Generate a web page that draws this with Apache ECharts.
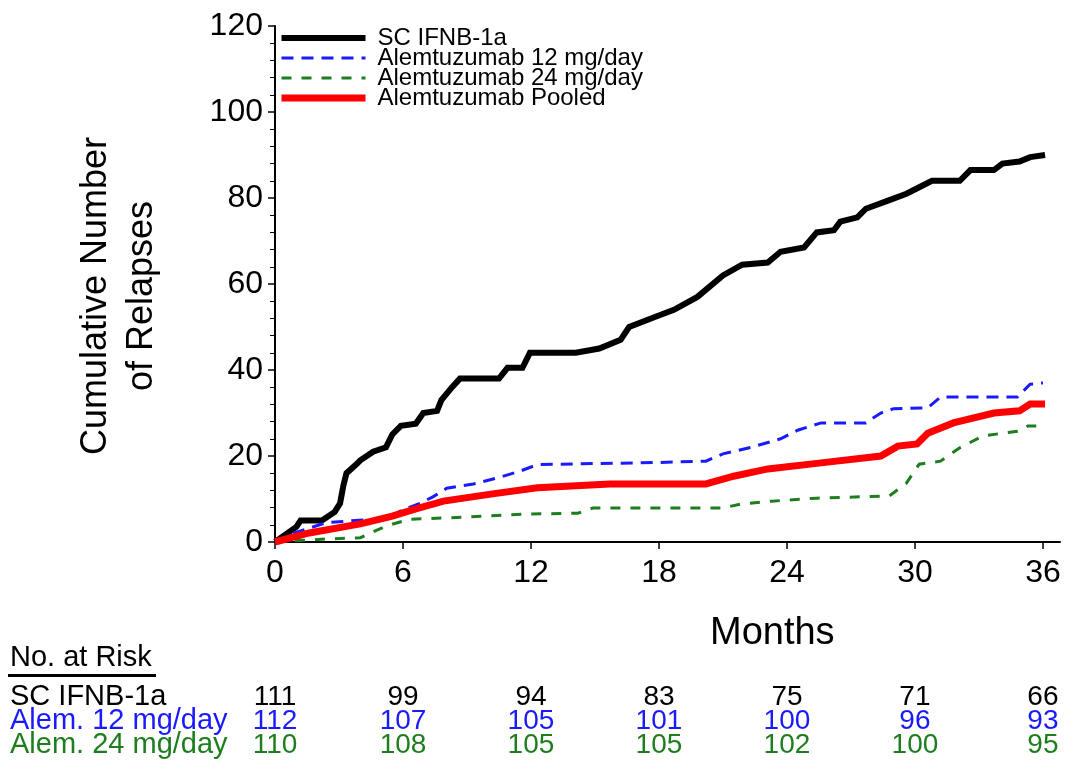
<!DOCTYPE html>
<html><head><meta charset="utf-8">
<script src="https://cdn.jsdelivr.net/npm/echarts@6/dist/echarts.min.js"></script>
<style>html,body{margin:0;padding:0;background:#fff}#c{width:1072px;height:766px}</style>
</head><body><div id="c"></div>
<script>
var seriesNames = ['SC IFNB-1a', 'Alemtuzumab 12 mg/day', 'Alemtuzumab 24 mg/day', 'Alemtuzumab Pooled'];
var scMonths = [0, 1.0, 1.2, 2.2, 2.8, 3.05, 3.2, 3.35, 3.8, 4.0, 4.6, 5.2, 5.5, 5.9, 6.6, 6.95, 7.6, 7.8, 8.3, 8.67, 10.5, 10.9, 11.6, 11.95, 14.1, 15.2, 16.2, 16.6, 17.9, 18.7, 19.8, 21.0, 21.9, 23.1, 23.7, 24.8, 25.4, 26.2, 26.5, 27.3, 27.7, 28.8, 29.6, 30.2, 30.8, 32.1, 32.6, 33.7, 34.1, 34.9, 35.4, 36.1];
var scValues = [0, 3.5, 5, 5, 7, 9, 13, 16, 18, 19, 21, 22, 25, 27, 27.5, 30, 30.5, 33, 36, 38, 38, 40.5, 40.5, 44, 44, 45, 47, 50, 52.5, 54, 57, 62, 64.5, 65, 67.5, 68.5, 72, 72.5, 74.5, 75.5, 77.5, 79.5, 81, 82.5, 84, 84, 86.5, 86.5, 88, 88.5, 89.5, 90];
var a12Months = [0, 0.85, 2.4, 5.2, 6.0, 6.8, 7.4, 8.05, 9.3, 10.5, 11.5, 12.3, 18.0, 20.2, 21.0, 22.3, 23.7, 24.5, 25.6, 27.7, 28.4, 29.0, 30.6, 31.2, 34.8, 35.4, 36.0];
var a12Values = [0, 2, 4.5, 5.5, 7.5, 9, 10.5, 12.5, 13.5, 15, 16.5, 18, 18.5, 18.8, 20.5, 22, 24, 26, 27.7, 27.7, 30, 31, 31.2, 33.7, 33.7, 36.7, 37];
var a24Months = [0, 2.4, 4.0, 5.2, 6.3, 8.05, 11.8, 14.2, 14.9, 21.0, 21.8, 23.3, 25.4, 28.8, 29.6, 30.2, 31.2, 32.1, 33.2, 34.9, 35.3, 36.0];
var a24Values = [0, 0.7, 1, 3.7, 5.3, 5.6, 6.5, 6.7, 7.9, 7.9, 8.8, 9.5, 10.2, 10.7, 13.7, 18.1, 18.8, 21.9, 24.7, 25.8, 27, 27];
var poolMonths = [0, 1.6, 4.0, 5.5, 6.6, 7.9, 10.2, 12.3, 15.7, 20.2, 21.5, 23.1, 25.6, 28.4, 29.2, 30.1, 30.6, 31.8, 33.7, 34.9, 35.4, 36.1];
var poolValues = [0, 2.1, 4.2, 6, 7.7, 9.5, 11.2, 12.6, 13.5, 13.5, 15.3, 17, 18.4, 20, 22.3, 22.8, 25.3, 27.7, 30, 30.5, 32.1, 32.1];
var xTicks = [0, 6, 12, 18, 24, 30, 36];
var riskRows = ['SC IFNB-1a', 'Alem. 12 mg/day', 'Alem. 24 mg/day'];
var riskSC = [111, 99, 94, 83, 75, 71, 66];
var riskA12 = [112, 107, 105, 101, 100, 96, 93];
var riskA24 = [110, 108, 105, 105, 102, 100, 95];

var FONT = '"Liberation Sans", Arial, sans-serif';
var lineColors = ['#000000', '#1a1aff', '#1e7d1e', '#ff0000'];
var lineWidths = [6, 3, 3, 7];
var lineTypes = ['solid', [12, 8], [10, 10], 'solid'];
var rowColors = ['#000000', '#1a1aff', '#1e7d1e'];
function pairs(xs, ys) { return xs.map(function (x, i) { return [x, ys[i]]; }); }
function riskData(vals, row) { return xTicks.map(function (m, i) { return [m, row, vals[i]]; }); }
function lineSeries(k, xs, ys) {
  return { name: seriesNames[k], type: 'line', xAxisIndex: 0, yAxisIndex: 0, data: pairs(xs, ys), symbol: 'none',
    lineStyle: { color: lineColors[k], width: lineWidths[k], type: lineTypes[k], cap: 'butt', join: 'miter' },
    itemStyle: { color: lineColors[k] }, z: 3 };
}
function riskSeries(vals, row, color) {
  return { type: 'scatter', xAxisIndex: 1, yAxisIndex: 1, data: riskData(vals, row), symbolSize: 1,
    itemStyle: { color: 'rgba(0,0,0,0)', opacity: 1 }, silent: true,
    label: { show: true, position: 'inside', color: color, opacity: 1, fontSize: 28, fontFamily: FONT,
      textBorderWidth: 0, textBorderColor: 'transparent',
      formatter: function (p) { return String(p.value[2]); } } };
}

var chart = echarts.init(document.getElementById('c'));
chart.setOption({
  backgroundColor: '#ffffff',
  animation: false,
  textStyle: { fontFamily: FONT },
  grid: [
    { left: 275, right: 12, top: 26, bottom: 224 },
    { left: 275, right: 12, top: 685, height: 72 }
  ],
  legend: {
    data: seriesNames.map(function (n, k) {
      return { name: n, itemStyle: { opacity: 0 },
        lineStyle: { width: lineWidths[k], type: lineTypes[k], color: lineColors[k], cap: 'butt' } };
    }),
    orient: 'vertical', left: 278, top: 26, itemWidth: 84, itemHeight: 10, itemGap: -4,
    textStyle: { fontSize: 24, lineHeight: 20, color: '#000', fontFamily: FONT, padding: [0, 0, 0, 7] }, padding: 0
  },
  title: { text: 'Months', left: 710, top: 615, padding: 0, textStyle: { fontSize: 38, fontWeight: 'normal', color: '#000', fontFamily: FONT } },
  xAxis: [
    { type: 'value', gridIndex: 0, min: 0, max: 36.8,
      axisLine: { lineStyle: { color: '#000', width: 2 } },
      axisTick: { show: true, length: 7, inside: false, customValues: xTicks, lineStyle: { color: '#000', width: 1.5 } },
      axisLabel: { customValues: xTicks, fontSize: 32, color: '#000', margin: 15, fontFamily: FONT },
      splitLine: { show: false } },
    { type: 'value', gridIndex: 1, min: 0, max: 36.8, show: false }
  ],
  yAxis: [
    { type: 'value', gridIndex: 0, min: 0, max: 120, interval: 20,
      name: 'Cumulative Number\nof Relapses', nameLocation: 'middle', nameRotate: 90, nameGap: 110,
      nameTextStyle: { fontSize: 36, color: '#000', fontFamily: FONT, lineHeight: 46, padding: [0, 24, 0, 0] },
      axisLine: { show: true, lineStyle: { color: '#000', width: 2 } },
      axisTick: { show: true, length: 7, lineStyle: { color: '#000', width: 1.5 } },
      minorTick: { show: true, splitNumber: 5, length: 5, lineStyle: { color: '#000', width: 1 } },
      axisLabel: { fontSize: 32, color: '#000', margin: 12, fontFamily: FONT },
      splitLine: { show: false } },
    { type: 'category', gridIndex: 1, data: riskRows, inverse: true,
      axisLine: { show: false }, axisTick: { show: false },
      axisLabel: { interval: 0, align: 'left', margin: 265, fontSize: 29, fontFamily: FONT,
        color: function (v, i) { return rowColors[riskRows.indexOf(v)]; } } }
  ],
  graphic: [
    { type: 'text', left: 10, top: 643, style: { text: 'No. at Risk', fill: '#000', font: '29px ' + FONT } },
    { type: 'rect', left: 8, top: 674, shape: { width: 148, height: 3 }, style: { fill: '#000' } }
  ],
  series: [
    lineSeries(0, scMonths, scValues),
    lineSeries(1, a12Months, a12Values),
    lineSeries(2, a24Months, a24Values),
    lineSeries(3, poolMonths, poolValues),
    riskSeries(riskSC, riskRows[0], rowColors[0]),
    riskSeries(riskA12, riskRows[1], rowColors[1]),
    riskSeries(riskA24, riskRows[2], rowColors[2])
  ]
});
</script></body></html>
